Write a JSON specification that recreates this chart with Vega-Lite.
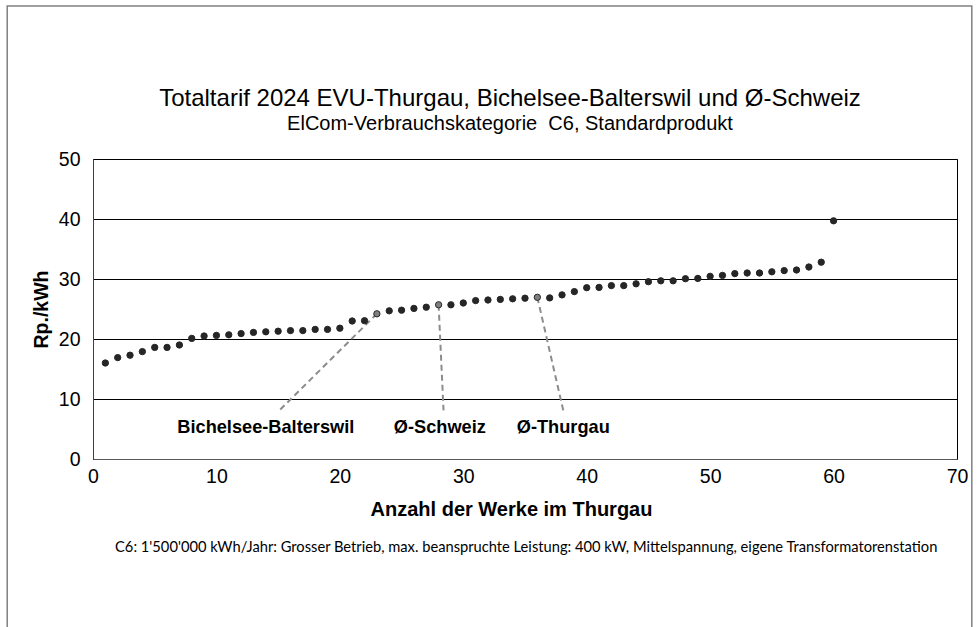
{
  "$schema": "https://vega.github.io/schema/vega-lite/v6.json",
  "width": 864,
  "height": 300,
  "autosize": {"type": "none"},
  "padding": {"left": 93, "top": 159, "right": 23, "bottom": 168},
  "background": "white",
  "title": {
    "text": "Totaltarif 2024 EVU-Thurgau, Bichelsee-Balterswil und Ø-Schweiz",
    "subtitle": "ElCom-Verbrauchskategorie\u00a0 C6, Standardprodukt",
    "font": "Liberation Sans",
    "fontSize": 24,
    "fontWeight": "normal",
    "color": "black",
    "subtitleFont": "Liberation Sans",
    "subtitleFontSize": 20,
    "subtitleColor": "black",
    "subtitlePadding": 3,
    "anchor": "middle",
    "frame": "group",
    "dx": -15,
    "offset": -129
  },
  "config": {
    "view": {"stroke": "black", "strokeWidth": 1},
    "font": "Liberation Sans",
    "axis": {
      "labelFont": "Liberation Sans",
      "labelFontSize": 19.5,
      "labelColor": "black",
      "titleFont": "Liberation Sans",
      "titleFontSize": 19.5,
      "titleFontWeight": "bold",
      "titleColor": "black",
      "tickSize": 0,
      "domainColor": "#595959"
    }
  },
  "datasets": {
    "werke": [
      {"n": 1, "rp": 16.0, "typ": "Werk"},
      {"n": 2, "rp": 16.9, "typ": "Werk"},
      {"n": 3, "rp": 17.3, "typ": "Werk"},
      {"n": 4, "rp": 17.9, "typ": "Werk"},
      {"n": 5, "rp": 18.6, "typ": "Werk"},
      {"n": 6, "rp": 18.6, "typ": "Werk"},
      {"n": 7, "rp": 19.0, "typ": "Werk"},
      {"n": 8, "rp": 20.1, "typ": "Werk"},
      {"n": 9, "rp": 20.5, "typ": "Werk"},
      {"n": 10, "rp": 20.6, "typ": "Werk"},
      {"n": 11, "rp": 20.7, "typ": "Werk"},
      {"n": 12, "rp": 20.9, "typ": "Werk"},
      {"n": 13, "rp": 21.1, "typ": "Werk"},
      {"n": 14, "rp": 21.2, "typ": "Werk"},
      {"n": 15, "rp": 21.3, "typ": "Werk"},
      {"n": 16, "rp": 21.4, "typ": "Werk"},
      {"n": 17, "rp": 21.4, "typ": "Werk"},
      {"n": 18, "rp": 21.6, "typ": "Werk"},
      {"n": 19, "rp": 21.6, "typ": "Werk"},
      {"n": 20, "rp": 21.8, "typ": "Werk"},
      {"n": 21, "rp": 23.0, "typ": "Werk"},
      {"n": 22, "rp": 23.05, "typ": "Werk"},
      {"n": 23, "rp": 24.2, "typ": "Referenz"},
      {"n": 24, "rp": 24.7, "typ": "Werk"},
      {"n": 25, "rp": 24.8, "typ": "Werk"},
      {"n": 26, "rp": 25.1, "typ": "Werk"},
      {"n": 27, "rp": 25.3, "typ": "Werk"},
      {"n": 28, "rp": 25.7, "typ": "Referenz"},
      {"n": 29, "rp": 25.7, "typ": "Werk"},
      {"n": 30, "rp": 26.0, "typ": "Werk"},
      {"n": 31, "rp": 26.4, "typ": "Werk"},
      {"n": 32, "rp": 26.5, "typ": "Werk"},
      {"n": 33, "rp": 26.6, "typ": "Werk"},
      {"n": 34, "rp": 26.7, "typ": "Werk"},
      {"n": 35, "rp": 26.8, "typ": "Werk"},
      {"n": 36, "rp": 26.95, "typ": "Referenz"},
      {"n": 37, "rp": 26.85, "typ": "Werk"},
      {"n": 38, "rp": 27.35, "typ": "Werk"},
      {"n": 39, "rp": 27.9, "typ": "Werk"},
      {"n": 40, "rp": 28.55, "typ": "Werk"},
      {"n": 41, "rp": 28.6, "typ": "Werk"},
      {"n": 42, "rp": 28.9, "typ": "Werk"},
      {"n": 43, "rp": 28.9, "typ": "Werk"},
      {"n": 44, "rp": 29.2, "typ": "Werk"},
      {"n": 45, "rp": 29.55, "typ": "Werk"},
      {"n": 46, "rp": 29.7, "typ": "Werk"},
      {"n": 47, "rp": 29.7, "typ": "Werk"},
      {"n": 48, "rp": 30.05, "typ": "Werk"},
      {"n": 49, "rp": 30.1, "typ": "Werk"},
      {"n": 50, "rp": 30.45, "typ": "Werk"},
      {"n": 51, "rp": 30.6, "typ": "Werk"},
      {"n": 52, "rp": 30.9, "typ": "Werk"},
      {"n": 53, "rp": 31.0, "typ": "Werk"},
      {"n": 54, "rp": 31.0, "typ": "Werk"},
      {"n": 55, "rp": 31.2, "typ": "Werk"},
      {"n": 56, "rp": 31.4, "typ": "Werk"},
      {"n": 57, "rp": 31.5, "typ": "Werk"},
      {"n": 58, "rp": 32.0, "typ": "Werk"},
      {"n": 59, "rp": 32.8, "typ": "Werk"},
      {"n": 60, "rp": 39.7, "typ": "Werk"}
    ],
    "labels": [
      {"label": "Bichelsee-Balterswil", "n": 23, "rp": 24.2, "ln": 15.0, "lrp": 7.9, "tn": 14.0, "trp": 5.2},
      {"label": "Ø-Schweiz", "n": 28, "rp": 25.7, "ln": 28.4, "lrp": 8.1, "tn": 28.1, "trp": 5.2},
      {"label": "Ø-Thurgau", "n": 36, "rp": 26.95, "ln": 38.1, "lrp": 8.1, "tn": 38.1, "trp": 5.2}
    ]
  },
  "layer": [
    {
      "data": {"values": [{}]},
      "mark": {"type": "rect", "fill": null, "stroke": "#808080", "strokeWidth": 1.5, "clip": false},
      "encoding": {
        "x": {"datum": -6.95, "type": "quantitative", "scale": {"domain": [0, 70]}},
        "x2": {"datum": 71.2},
        "y": {"datum": 75.5, "type": "quantitative", "scale": {"domain": [0, 50]}},
        "y2": {"datum": -30}
      }
    },
    {
      "data": {"name": "labels"},
      "mark": {"type": "rule", "color": "#8c8c8c", "strokeWidth": 2, "strokeDash": [6, 4]},
      "encoding": {
        "x": {"field": "n", "type": "quantitative"},
        "y": {"field": "rp", "type": "quantitative"},
        "x2": {"field": "ln"},
        "y2": {"field": "lrp"}
      }
    },
    {
      "data": {"name": "werke"},
      "mark": {"type": "point", "filled": true, "size": 40, "opacity": 1},
      "encoding": {
        "x": {
          "field": "n",
          "type": "quantitative",
          "scale": {"domain": [0, 70], "nice": false},
          "axis": {
            "title": "Anzahl der Werke im Thurgau",
            "titleFontSize": 20,
            "titleX": 418,
            "values": [0, 10, 20, 30, 40, 50, 60, 70],
            "grid": false,
            "labelFlush": false,
            "labelPadding": 8,
            "titlePadding": 14
          }
        },
        "y": {
          "field": "rp",
          "type": "quantitative",
          "scale": {"domain": [0, 50], "nice": false},
          "axis": {
            "title": "Rp./kWh",
            "values": [0, 10, 20, 30, 40, 50],
            "grid": true,
            "gridColor": "black",
            "gridWidth": 1,
            "gridOpacity": 1,
            "domainColor": "#404040",
            "labelPadding": 13,
            "titlePadding": 7
          }
        },
        "fill": {
          "field": "typ",
          "type": "nominal",
          "scale": {"domain": ["Werk", "Referenz"], "range": ["#262626", "#7f7f7f"]},
          "legend": null
        },
        "stroke": {
          "field": "typ",
          "type": "nominal",
          "scale": {"domain": ["Werk", "Referenz"], "range": ["#262626", "#262626"]},
          "legend": null
        },
        "strokeWidth": {"value": 1}
      }
    },
    {
      "data": {"name": "labels"},
      "mark": {"type": "text", "font": "Liberation Sans", "fontSize": 18.2, "fontWeight": "bold", "color": "black", "baseline": "middle", "align": "center"},
      "encoding": {
        "x": {"field": "tn", "type": "quantitative"},
        "y": {"field": "trp", "type": "quantitative"},
        "text": {"field": "label"}
      }
    },
    {
      "data": {"values": [{"note": "C6: 1'500'000 kWh/Jahr: Grosser Betrieb, max. beanspruchte Leistung: 400 kW, Mittelspannung, eigene Transformatorenstation"}]},
      "mark": {"type": "text", "font": "Lato", "fontSize": 14.7, "color": "black", "baseline": "middle", "align": "center", "clip": false},
      "encoding": {
        "x": {"datum": 35.1, "type": "quantitative"},
        "y": {"datum": -14.9, "type": "quantitative"},
        "text": {"field": "note"}
      }
    }
  ]
}
